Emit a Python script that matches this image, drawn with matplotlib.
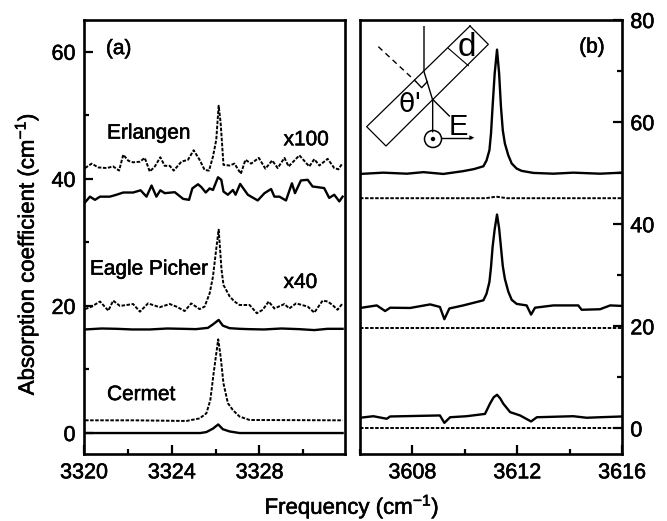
import matplotlib
matplotlib.use("Agg")
import matplotlib.pyplot as plt
import matplotlib.patheffects as pe
from matplotlib.lines import Line2D
from matplotlib.patches import Circle, Polygon
from matplotlib.text import Text
from matplotlib.ticker import MultipleLocator

plt.rcParams['font.family'] = ['Liberation Sans', 'DejaVu Sans']
plt.rcParams['mathtext.fontset'] = 'custom'
plt.rcParams['mathtext.rm'] = 'Liberation Sans'
plt.rcParams['mathtext.default'] = 'regular'

W, H = 667, 521

# panel (a): frequency offsets from 3320
erl_dash_x = [0.05, 0.35, 0.65, 1.03, 1.33, 1.6, 1.79, 2.02, 2.24, 2.55, 2.77, 3.0, 3.23, 3.48, 3.68, 3.91, 4.09,
              4.44, 4.74, 5.0, 5.27, 5.5, 5.7, 5.88, 6.03, 6.14, 6.23, 6.36, 6.64, 6.86, 7.15, 7.36, 7.62, 7.97,
              8.27, 8.58, 8.83, 9.14, 9.33, 9.82, 10.27, 10.5, 10.73, 11.11, 11.41, 11.6, 11.79]
erl_dash_y = [41.7, 42.4, 41.8, 41.7, 41.95, 41.3, 43.8, 42.85, 42.6, 42.7, 43.3, 41.15, 41.95, 43.4, 42.05, 42.05,
              41.3, 42.7, 43.0, 44.5, 43.0, 41.4, 41.3, 43.5, 46.15, 51.5, 48.8, 42.2, 42.1, 42.4, 40.8, 43.0,
              42.4, 43.3, 41.6, 42.9, 41.7, 43.3, 41.95, 43.7, 41.95, 43.1, 42.1, 43.15, 41.7, 41.5, 42.5]
erl_solid_x = [0.05, 0.27, 0.5, 0.73, 1.18, 1.48, 1.79, 2.24, 2.58, 2.85, 3.08, 3.3, 3.48, 3.68, 4.14, 4.52, 4.79,
               4.94, 5.2, 5.35, 5.55, 5.73, 5.88, 6.11, 6.26, 6.36, 6.56, 6.79, 6.91, 7.12, 7.47, 7.92, 8.23, 8.53,
               8.68, 8.91, 9.21, 9.48, 9.62, 9.89, 10.2, 10.42, 10.95, 11.18, 11.41, 11.64, 11.79]
erl_solid_y = [36.3, 37.2, 36.7, 37.2, 37.2, 37.5, 37.85, 37.85, 38.2, 37.2, 38.95, 37.2, 38.2, 37.75, 37.9, 36.85,
               36.7, 38.5, 39.15, 38.7, 37.85, 38.5, 38.25, 40.25, 39.85, 38.0, 37.5, 38.25, 37.5, 39.2, 37.5, 36.6,
               37.75, 38.4, 37.2, 37.2, 36.6, 39.3, 37.75, 39.75, 39.85, 38.8, 38.55, 37.0, 37.5, 36.45, 37.2]
eagle_dash_x = [0.05, 0.35, 0.73, 1.11, 1.33, 1.64, 2.24, 2.55, 2.92, 3.45, 3.91, 4.21, 4.59, 4.89, 5.27, 5.5, 5.73,
                5.88, 6.03, 6.14, 6.27, 6.36, 6.64, 6.86, 7.09, 7.55, 7.88, 8.15, 8.42, 8.68, 9.14, 9.36, 9.67, 10.2,
                10.5, 10.88, 11.11, 11.33, 11.56, 11.79]
eagle_dash_y = [19.5, 19.9, 20.7, 19.26, 20.84, 20.0, 20.3, 19.1, 20.4, 19.8, 20.3, 19.9, 19.2, 20.4, 19.5, 19.9,
                22.0, 24.6, 29.0, 32.0, 25.7, 23.3, 21.5, 20.7, 20.15, 20.15, 18.85, 19.4, 20.7, 19.6, 20.3, 19.6,
                20.4, 19.9, 18.95, 20.84, 20.7, 20.15, 19.4, 20.4]
eagle_solid_x = [0.05, 0.8, 1.5, 2.2, 3.0, 3.8, 4.5, 5.1, 5.65, 5.88, 6.14, 6.33, 6.64, 7.1, 7.5, 8.2, 9.0, 9.8, 10.5,
                 11.1, 11.79]
eagle_solid_y = [16.3, 16.45, 16.4, 16.3, 16.3, 16.45, 16.4, 16.35, 16.55, 17.1, 17.8, 16.9, 16.5, 16.4, 16.35, 16.3,
                 16.45, 16.35, 16.2, 16.4, 16.4]
cermet_dash_x = [0.05, 2.24, 4.67, 5.27, 5.58, 5.76, 5.91, 6.03, 6.12, 6.23, 6.36, 6.56, 6.79, 7.09, 7.55, 11.79]
cermet_dash_y = [2.0, 2.0, 1.9, 2.3, 3.1, 5.2, 9.4, 12.5, 14.75, 12.0, 7.8, 4.7, 3.6, 2.6, 2.05, 2.0]
cermet_solid_x = [0.05, 5.3, 5.58, 5.88, 6.12, 6.33, 6.64, 7.09, 11.79]
cermet_solid_y = [0.0, 0.0, 0.15, 0.7, 1.35, 0.6, 0.25, 0.0, 0.0]

# panel (b)
top_x = [3606.0, 3606.89, 3607.79, 3608.42, 3609.18, 3609.94, 3610.35, 3610.71, 3610.83, 3610.94, 3611.0, 3611.06,
         3611.14, 3611.23, 3611.31, 3611.38, 3611.45, 3611.53, 3611.66, 3611.79, 3611.98, 3612.17, 3612.62, 3613.38,
         3614.14, 3615.16, 3616.0]
top_y = [49.85, 50.1, 49.9, 50.2, 49.85, 50.4, 50.8, 51.35, 52.5, 54.5, 57.75, 63.0, 69.5, 74.2, 69.5, 63.0, 58.4,
         55.8, 53.5, 51.9, 50.9, 50.45, 50.05, 49.9, 50.1, 49.9, 50.1]
top_dash_x = [3606.0, 3610.8, 3611.2, 3611.6, 3616.0]
top_dash_y = [45.1, 45.1, 45.4, 45.1, 45.1]
mid_x = [3606.0, 3606.64, 3606.96, 3607.15, 3607.91, 3608.68, 3609.05, 3609.22, 3609.41, 3609.94, 3610.71, 3610.83,
         3610.94, 3611.0, 3611.06, 3611.14, 3611.23, 3611.31, 3611.38, 3611.45, 3611.53, 3611.66, 3611.79, 3611.98,
         3612.36, 3612.53, 3612.68, 3613.38, 3614.33, 3614.46, 3615.16, 3615.55, 3616.0]
mid_y = [23.6, 24.1, 23.0, 23.65, 23.6, 24.3, 23.8, 21.4, 23.5, 24.1, 25.1, 26.4, 28.7, 31.6, 35.5, 39.0, 41.9, 39.2,
         35.5, 31.8, 29.3, 26.8, 25.2, 24.4, 24.1, 22.3, 23.65, 24.1, 24.1, 23.25, 23.35, 24.1, 24.0]
mid_dash_x = [3606.0, 3616.0]
mid_dash_y = [19.6, 19.6]
low_x = [3606.0, 3606.51, 3607.02, 3607.15, 3609.05, 3609.22, 3609.44, 3610.07, 3610.77, 3610.96, 3611.1, 3611.23,
         3611.35, 3611.47, 3611.73, 3612.11, 3612.53, 3612.75, 3614.14, 3614.65, 3615.16, 3616.0]
low_y = [2.1, 2.4, 1.9, 2.35, 2.55, 1.1, 2.2, 2.4, 2.85, 4.85, 6.1, 6.6, 5.9, 4.85, 3.2, 2.55, 1.37, 2.2, 2.4, 2.1,
         2.2, 2.35]
low_dash_x = [3606.0, 3616.0]
low_dash_y = [0.0, 0.0]


def px_axes(fig, left, right, top, bottom):
    return fig.add_axes([left / W, 1 - bottom / H, (right - left) / W, (bottom - top) / H])


def style_axes(ax):
    for s in ax.spines.values():
        s.set_linewidth(1.9)
    ax.tick_params(which='major', direction='in', length=6.5, width=1.6, labelsize=15.5, pad=6)
    ax.tick_params(which='minor', direction='in', length=3.5, width=1.6)


def inset_pt(zx, zy):
    # zoomed pixel position to figure fraction
    return (340 + zx / 3) / W, 1 - (zy / 3) / H


def inset_line(fig, pts, lw=0.9, ls='-'):
    xs, ys = zip(*[inset_pt(*p) for p in pts])
    fig.add_artist(Line2D(xs, ys, transform=fig.transFigure, color='k', lw=lw, ls=ls))


def draw_inset(fig):
    inset_line(fig, [(390, 78), (445, 133), (138, 438), (80, 380), (390, 78)])
    inset_line(fig, [(252, 80), (252, 215), (278, 300), (278, 395)], lw=1.0)
    inset_line(fig, [(115, 140), (228, 245)], lw=1.0, ls=(0, (4, 3)))
    inset_line(fig, [(278, 298), (328, 348)], lw=1.0)
    inset_line(fig, [(228, 245), (245, 263), (262, 245)], lw=1.0)
    inset_line(fig, [(325, 145), (385, 197)], lw=0.8)
    inset_line(fig, [(305, 413), (392, 413)], lw=1.0)
    tip = [inset_pt(403, 413), inset_pt(388, 406), inset_pt(388, 420)]
    fig.add_artist(Polygon(tip, transform=fig.transFigure, color='k', lw=0))
    # circle with dot, drawn in pixel units
    cx, cy = 340 + 279 / 3, H - 417 / 3
    fig.add_artist(Circle((cx, cy), 8.5, transform=None, fc='white', ec='k', lw=1.1))
    fig.add_artist(Circle((cx, cy), 2.2, transform=None, fc='k', ec='k', lw=0))
    fig.text(*inset_pt(382, 142), 'd', fontsize=24, ha='center', va='center')
    fig.text(*inset_pt(355, 380), 'E', fontsize=21, ha='center', va='center')
    fig.text(*inset_pt(212, 315), "\u03b8'", fontsize=19, ha='center', va='center', family=['DejaVu Sans'])


def main():
    fig = plt.figure(figsize=(W / 100, H / 100), dpi=100)

    ax1 = px_axes(fig, 84, 345, 20, 454)
    solid = dict(color='k', lw=1.7)
    dash = dict(color='k', lw=1.4, ls=(0, (1.8, 0.8)))
    ax1.plot([3320 + v for v in erl_dash_x], erl_dash_y, **dash)
    ax1.plot([3320 + v for v in erl_solid_x], erl_solid_y, **solid)
    ax1.plot([3320 + v for v in eagle_dash_x], eagle_dash_y, **dash)
    ax1.plot([3320 + v for v in eagle_solid_x], eagle_solid_y, **solid)
    ax1.plot([3320 + v for v in cermet_dash_x], cermet_dash_y, **dash)
    ax1.plot([3320 + v for v in cermet_solid_x], cermet_solid_y, **solid)
    ax1.set_xlim(3320, 3331.9)
    ax1.set_ylim(-3.3, 65)
    ax1.xaxis.set_major_locator(MultipleLocator(4))
    ax1.xaxis.set_minor_locator(MultipleLocator(2))
    ax1.yaxis.set_major_locator(MultipleLocator(20))
    ax1.yaxis.set_minor_locator(MultipleLocator(10))
    style_axes(ax1)
    ax1.text(3321, 60.5, '(a)', fontsize=15, ha='left', va='center')
    ax1.text(3321.05, 47.2, 'Erlangen', fontsize=15, ha='left', va='center')
    ax1.text(3320.27, 25.8, 'Eagle Picher', fontsize=15, ha='left', va='center')
    ax1.text(3321.05, 6.05, 'Cermet', fontsize=15, ha='left', va='center')
    ax1.text(3329.1, 46.15, 'x100', fontsize=15, ha='left', va='center')
    ax1.text(3329.1, 23.7, 'x40', fontsize=15, ha='left', va='center')

    ax2 = px_axes(fig, 360, 622, 20, 454)
    ax2.plot(top_x, top_y, **solid)
    ax2.plot(top_dash_x, top_dash_y, **dash)
    ax2.plot(mid_x, mid_y, **solid)
    ax2.plot(mid_dash_x, mid_dash_y, **dash)
    ax2.plot(low_x, low_y, **solid)
    ax2.plot(low_dash_x, low_dash_y, **dash)
    ax2.set_xlim(3606, 3616)
    ax2.set_ylim(-5, 80)
    ax2.xaxis.set_major_locator(MultipleLocator(4))
    ax2.xaxis.set_minor_locator(MultipleLocator(2))
    ax2.yaxis.set_major_locator(MultipleLocator(20))
    ax2.yaxis.set_minor_locator(MultipleLocator(10))
    ax2.yaxis.set_ticks_position('right')
    style_axes(ax2)
    ax2.text(3614.85, 74.7, '(b)', fontsize=15, ha='center', va='center')

    fig.text(27 / W, 1 - 254 / H, 'Absorption coefficient (cm$^{-1}$)', fontsize=16, rotation=90,
             ha='center', va='center')
    fig.text(352 / W, 1 - 507 / H, 'Frequency (cm$^{-1}$)', fontsize=16, ha='center', va='center')

    # the scan has slightly heavy lettering
    for t in fig.findobj(Text):
        t.set_path_effects([pe.withStroke(linewidth=0.4, foreground='k')])

    draw_inset(fig)
    fig.savefig('out.png', dpi=100)


if __name__ == "__main__":
    main()
